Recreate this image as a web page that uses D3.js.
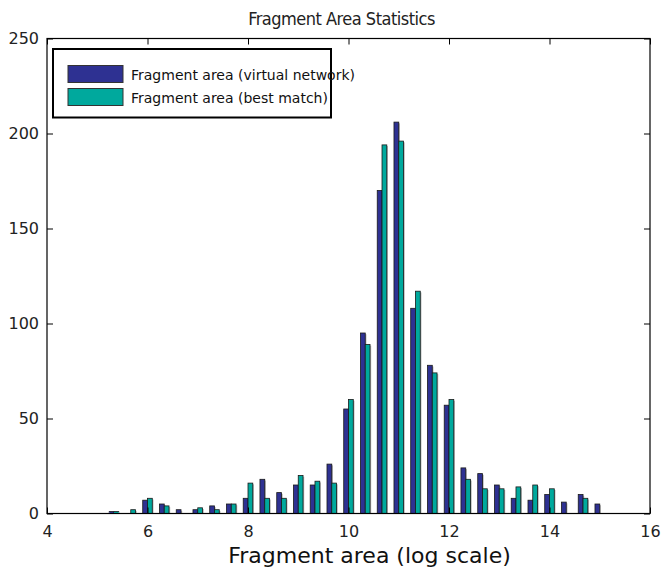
<!DOCTYPE html>
<html><head><meta charset="utf-8">
<script src="https://cdn.jsdelivr.net/npm/d3@7/dist/d3.min.js"></script>
<style>body{margin:0;background:#fff;} svg{display:block;}</style>
</head><body>
<script>
// bin centres (log scale fragment area)
const binCenters = [5.333,5.667,6,6.333,6.667,7,7.333,7.667,8,8.333,8.667,9,9.333,9.667,10,10.333,10.667,11,11.333,11.667,12,12.333,12.667,13,13.333,13.667,14,14.333,14.667,15];
const virtualNetwork = [1,0,7,5,2,2,4,5,8,18,11,15,15,26,55,95,170,206,108,78,57,24,21,15,8,7,10,6,10,5];
const bestMatch      = [1,2,8,4,0,3,2,5,16,8,8,20,17,16,60,89,194,196,117,74,60,18,13,13,14,15,13,0,8,0];
const seriesNames = ["Fragment area (virtual network)","Fragment area (best match)"];
const seriesColors = ["#2e3192","#00a99d"];
const xTicks = [4,6,8,10,12,14,16];
const yTicks = [0,50,100,150,200,250];

const W=662,H=572;
const m={left:47,right:12,top:38.5,bottom:58.5};
const svg=d3.select("body").append("svg").attr("width",W).attr("height",H);
const x=d3.scaleLinear().domain([4,16]).range([m.left,W-m.right]);
const y=d3.scaleLinear().domain([0,250]).range([H-m.bottom,m.top]);
const bw=0.095;

const series=[virtualNetwork,bestMatch];
series.forEach((vals,si)=>{
  const g=svg.append("g");
  const data=binCenters.map((c,i)=>({c,v:vals[i]})).filter(d=>d.v>0);
  const x0=d=>si===0?x(d.c-bw):x(d.c);
  g.selectAll("rect.sh").data(data).join("rect").attr("class","sh")
    .attr("x",d=>x0(d)+1.2).attr("y",d=>y(d.v)+1.2)
    .attr("width",x(4+bw)-x(4)).attr("height",d=>y(0)-y(d.v)-1.2)
    .attr("fill","#b5b5b5");
  g.selectAll("rect.b").data(data).join("rect").attr("class","b")
    .attr("x",d=>x0(d)).attr("y",d=>y(d.v))
    .attr("width",x(4+bw)-x(4)).attr("height",d=>y(0)-y(d.v))
    .attr("fill",seriesColors[si]).attr("stroke","#1a1a1a").attr("stroke-width",0.8);
});

svg.append("rect").attr("x",m.left).attr("y",m.top).attr("width",W-m.left-m.right).attr("height",H-m.top-m.bottom)
  .attr("fill","none").attr("stroke","#000").attr("stroke-width",1.2);

const font="DejaVu Sans";
const xb=svg.append("g").attr("transform",`translate(0,${y(0)})`)
  .call(d3.axisBottom(x).tickValues(xTicks).tickSize(-6).tickPadding(12).tickFormat(d3.format("d")));
const xt=svg.append("g").attr("transform",`translate(0,${y(250)})`)
  .call(d3.axisTop(x).tickValues(xTicks).tickSize(-6).tickFormat(""));
const yl=svg.append("g").attr("transform",`translate(${x(4)},0)`)
  .call(d3.axisLeft(y).tickValues(yTicks).tickSize(-6).tickPadding(8).tickFormat(d3.format("d")));
const yr=svg.append("g").attr("transform",`translate(${x(16)},0)`)
  .call(d3.axisRight(y).tickValues(yTicks).tickSize(-6).tickFormat(""));
[xb,xt,yl,yr].forEach(a=>{a.select(".domain").remove();a.selectAll("line").attr("stroke","#000");
  a.selectAll("text").attr("font-family",font).attr("font-size",16).attr("fill","#222");});

svg.append("text").attr("x",341.5).attr("y",25).attr("text-anchor","middle")
  .attr("font-family","DejaVu Sans Condensed, DejaVu Sans").attr("font-size",18).attr("letter-spacing",-0.5).attr("fill","#222")
  .text("Fragment Area Statistics");
svg.append("text").attr("x",369.5).attr("y",563).attr("text-anchor","middle")
  .attr("font-family",font).attr("font-size",22).attr("fill","#111")
  .text("Fragment area (log scale)");

const lg=svg.append("g");
lg.append("rect").attr("x",53).attr("y",49).attr("width",278).attr("height",68.5)
  .attr("fill","#fff").attr("stroke","#000").attr("stroke-width",2);
seriesNames.forEach((n,i)=>{
  lg.append("rect").attr("x",68).attr("y",65.5+i*23).attr("width",55).attr("height",17)
    .attr("fill",seriesColors[i]).attr("stroke","#333").attr("stroke-width",1);
  lg.append("text").attr("x",131).attr("y",79.5+i*23).attr("font-family",font).attr("font-size",14).attr("fill","#111").text(n);
});
</script>
</body></html>
